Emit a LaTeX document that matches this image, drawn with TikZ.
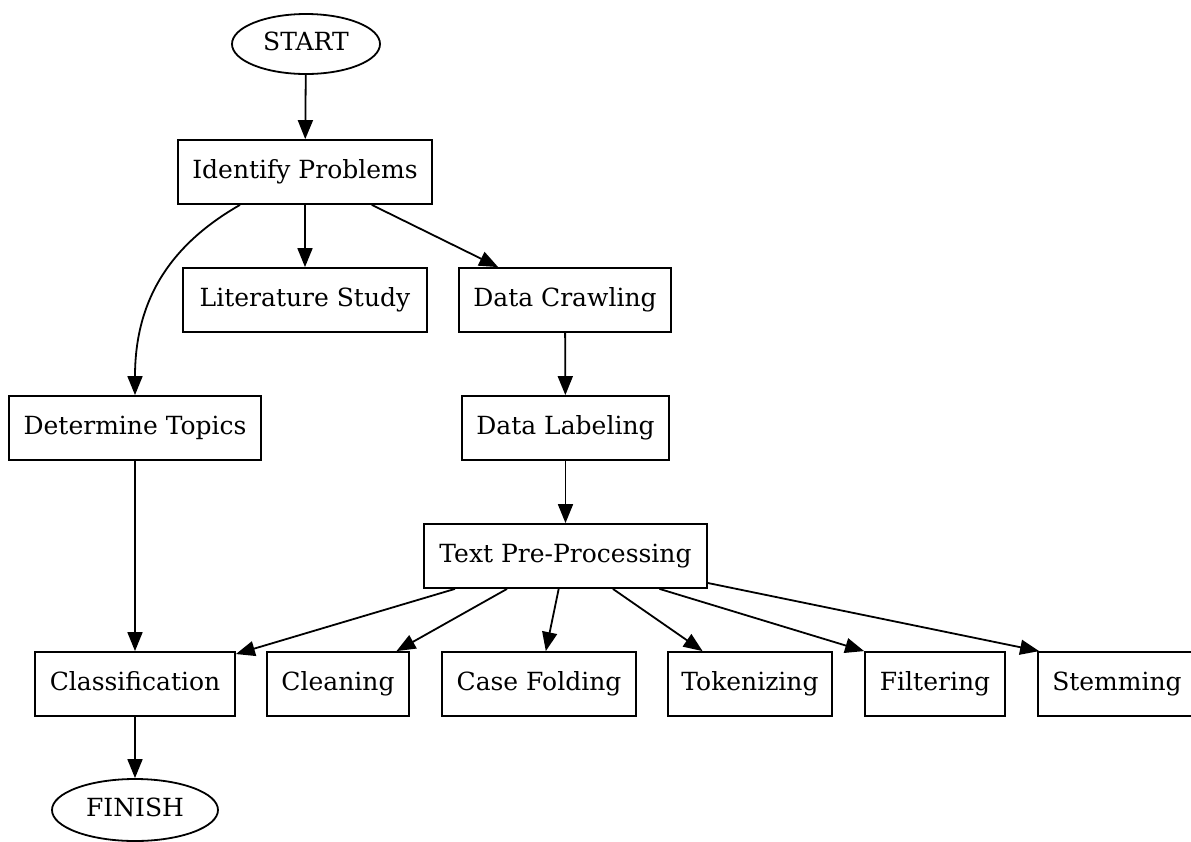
\documentclass[tikz,border=0pt]{standalone}
\usepackage{fontspec}
\setmainfont{DejaVu Serif}
\usetikzlibrary{shapes.geometric,arrows.meta}
\begin{document}
\begin{tikzpicture}[x=0.5pt,y=-0.5pt,
  lbl/.style={font=\fontsize{12.5}{14}\selectfont,text height=9pt,text depth=2.5pt},
  box/.style={lbl,draw,line width=0.9pt,rectangle,inner sep=0pt,minimum height=32pt},
  oval/.style={lbl,draw,line width=0.9pt,ellipse,inner sep=0pt},
  arr/.style={draw,line width=0.9pt,-{Triangle[length=9.5pt,width=7.5pt]}}]
\useasboundingbox (0,0) rectangle (1191,842);
\clip (0,0) rectangle (1191,842);
\node[oval,minimum width=74pt,minimum height=30pt] (start) at (306,44) {START};
\node[box,minimum width=127pt] (ip) at (305,172) {Identify Problems};
\node[box,minimum width=122pt] (ls) at (305,300) {Literature Study};
\node[box,minimum width=106pt] (dc) at (565,300) {Data Crawling};
\node[box,minimum width=126pt] (dt) at (135,428) {Determine Topics};
\node[box,minimum width=103.5pt] (dl) at (565.5,428) {Data Labeling};
\node[box,minimum width=141.5pt] (tp) at (565.5,556) {Text Pre-Processing};
\node[box,minimum width=100pt] (cl) at (135,684) {Classification};
\node[box,minimum width=71pt] (cn) at (338,684) {Cleaning};
\node[box,minimum width=97pt] (cf) at (539,684) {Case Folding};
\node[box,minimum width=82pt] (tk) at (750,684) {Tokenizing};
\node[box,minimum width=70pt] (fl) at (935,684) {Filtering};
\node[box,minimum width=79pt] (sm) at (1117,684) {Stemming};
\node[oval,minimum width=83pt,minimum height=31pt] (fin) at (135,810) {FINISH};

\draw[arr] (start) -- (ip);
\draw[arr] (ip) -- (ls);
\draw[arr] (ip) -- (dc);
\draw[arr] ([xshift=-32.5pt]ip.south) .. controls (170,245) and (135,300) .. (dt.north);
\draw[arr] (dt) -- (cl);
\draw[arr] (dc) -- (dl);
\draw[arr] (dl) -- (tp);
\draw[arr] (tp) -- (cl);
\draw[arr] (tp) -- (cn);
\draw[arr] (tp) -- (cf);
\draw[arr] (tp) -- (tk);
\draw[arr] ([xshift=47pt]tp.south) -- (fl.north west);
\draw[arr] ([yshift=-13.5pt]tp.east) -- ([xshift=1pt]sm.north west);
\draw[arr] (cl) -- (fin);
\end{tikzpicture}
\end{document}
